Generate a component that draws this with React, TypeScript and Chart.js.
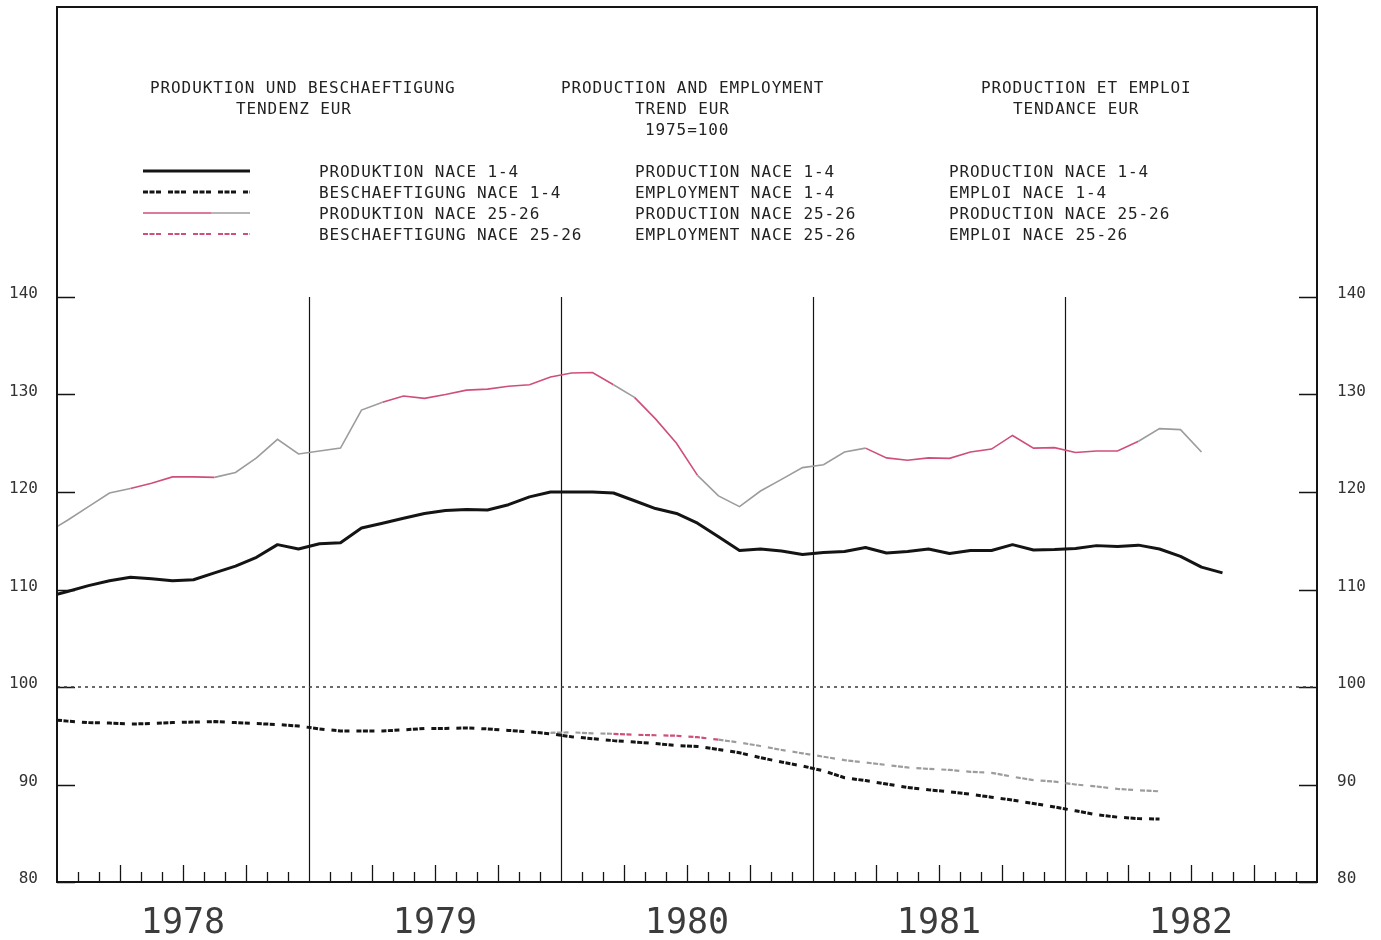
import React, { useEffect, useRef } from "react";
import { Chart, registerables } from "chart.js";

Chart.register(...registerables);

// ---------- data ----------
const yearLabels = ["1978", "1979", "1980", "1981", "1982"];
const yearMidMonths = [6, 18, 30, 42, 54];
const yearBoundaryMonths = [12, 24, 36, 48];
const yTickValues = [80, 90, 100, 110, 120, 130, 140];
const referenceLevel = 100;

// index 0 = start of Jan 1978, index i>=1 = middle of month i-1
const prodNace14 = [
  109.5, 109.8, 110.4, 110.9, 111.25, 111.1, 110.9, 111.0, 111.7, 112.4,
  113.3, 114.6, 114.15, 114.7, 114.8, 116.3, 116.8, 117.3, 117.8, 118.1,
  118.2, 118.15, 118.7, 119.5, 120.0, 120.0, 120.0, 119.9, 119.1, 118.3,
  117.8, 116.8, 115.4, 114.0, 114.15, 113.95, 113.6, 113.8, 113.9, 114.3,
  113.75, 113.9, 114.15, 113.7, 114.0, 114.0, 114.6, 114.05, 114.1, 114.2,
  114.5, 114.4, 114.55, 114.15, 113.4, 112.3, 111.7,
];
const empNace14 = [
  96.6, 96.5, 96.35, 96.3, 96.2, 96.25, 96.35, 96.4, 96.45, 96.35,
  96.25, 96.15, 96.0, 95.7, 95.5, 95.5, 95.5, 95.6, 95.75, 95.75,
  95.8, 95.7, 95.55, 95.4, 95.2, 94.9, 94.7, 94.5, 94.35, 94.2,
  94.0, 93.9, 93.6, 93.25, 92.75, 92.3, 91.9, 91.4, 90.7, 90.4,
  90.05, 89.7, 89.45, 89.25, 89.0, 88.7, 88.4, 88.05, 87.7, 87.3,
  86.9, 86.65, 86.5, 86.45,
];
const prodNace2526 = [
  116.45, 117.1, 118.5, 119.9, 120.35, 120.9, 121.55, 121.55, 121.5, 122.0,
  123.5, 125.4, 123.9, 124.2, 124.5, 128.4, 129.2, 129.85, 129.6, 130.0,
  130.45, 130.55, 130.85, 131.0, 131.8, 132.2, 132.25, 131.0, 129.7, 127.5,
  125.0, 121.7, 119.6, 118.5, 120.1, 121.3, 122.5, 122.8, 124.1, 124.5,
  123.5, 123.25, 123.5, 123.45, 124.1, 124.4, 125.8, 124.5, 124.55, 124.05,
  124.2, 124.2, 125.2, 126.5, 126.4, 124.1,
];
const empNace2526 = [
  null, null, null, null, null, null, null, null, null, null,
  null, null, null, null, null, null, null, null, null, null,
  null, null, null, null, 95.3, 95.35, 95.25, 95.2, 95.1, 95.05,
  95.0, 94.85, 94.6, 94.3, 93.95, 93.55, 93.2, 92.85, 92.5, 92.25,
  92.0, 91.75, 91.6, 91.5, 91.3, 91.2, 90.8, 90.45, 90.3, 90.0,
  89.8, 89.55, 89.4, 89.3,
];

const titleDe = ["PRODUKTION UND BESCHAEFTIGUNG", "TENDENZ EUR"];
const titleEn = ["PRODUCTION AND EMPLOYMENT", "TREND EUR", "1975=100"];
const titleFr = ["PRODUCTION ET EMPLOI", "TENDANCE EUR"];
const legendDe = ["PRODUKTION NACE 1-4", "BESCHAEFTIGUNG NACE 1-4", "PRODUKTION NACE 25-26", "BESCHAEFTIGUNG NACE 25-26"];
const legendEn = ["PRODUCTION NACE 1-4", "EMPLOYMENT NACE 1-4", "PRODUCTION NACE 25-26", "EMPLOYMENT NACE 25-26"];
const legendFr = ["PRODUCTION NACE 1-4", "EMPLOI NACE 1-4", "PRODUCTION NACE 25-26", "EMPLOI NACE 25-26"];

// ---------- styles ----------
const BLACK = "#141414";
const GRAY = "#9c9c9c";
const RED = "#cf4f78";
const EMP_DASH = [5, 1.5, 5, 1.5, 5, 7];
const prod2526RedRanges = [[4, 7], [16, 26], [28, 30], [39, 51]];
const emp2526RedRanges = [[27, 31]];
const MONO = "'DejaVu Sans Mono', monospace";

const monthPos = (i: number) => (i === 0 ? 0 : i - 0.5);
const toPoints = (arr: (number | null)[]) => arr.map((v, i) => ({ x: monthPos(i), y: v }));
const inRanges = (i: number, ranges: number[][]) => ranges.some(([a, b]) => i >= a && i <= b);

const legendRowsY = [171, 192, 213, 234];

const decorPlugin = {
  id: "decor",
  beforeDatasetsDraw(chart: any) {
    const { ctx, chartArea, scales } = chart;
    const { left, right, bottom } = chartArea;
    const x = scales.x;
    const y = scales.y;
    ctx.save();
    ctx.strokeStyle = BLACK;
    ctx.lineWidth = 1.2;
    // year separators
    const topLine = y.getPixelForValue(140);
    yearBoundaryMonths.forEach((m) => {
      const px = Math.round(x.getPixelForValue(m)) + 0.5;
      ctx.beginPath();
      ctx.moveTo(px, topLine);
      ctx.lineTo(px, bottom);
      ctx.stroke();
    });
    // y inner ticks
    ctx.lineWidth = 1.3;
    yTickValues.forEach((v) => {
      const py = Math.round(y.getPixelForValue(v)) + 0.5;
      ctx.beginPath();
      ctx.moveTo(left, py);
      ctx.lineTo(left + 18, py);
      ctx.moveTo(right - 18, py);
      ctx.lineTo(right, py);
      ctx.stroke();
    });
    // month ticks
    for (let m = 1; m < 60; m++) {
      if (m % 12 === 0) continue;
      const len = m % 3 === 0 ? 17 : 10;
      const px = Math.round(x.getPixelForValue(m)) + 0.5;
      ctx.beginPath();
      ctx.moveTo(px, bottom);
      ctx.lineTo(px, bottom - len);
      ctx.stroke();
    }
    ctx.restore();
  },
  afterDraw(chart: any) {
    const { ctx, chartArea } = chart;
    const { left, right, top, bottom } = chartArea;
    ctx.save();
    ctx.strokeStyle = BLACK;
    ctx.lineWidth = 2;
    ctx.strokeRect(left, top, right - left, bottom - top);

    // legend samples
    const x0 = 143, x1 = 250, xMid = 211;
    const ds = chart.data.datasets;
    const drawSample = (yy: number, color: string, width: number, dash: number[], xa: number, xb: number) => {
      ctx.beginPath();
      ctx.strokeStyle = color;
      ctx.lineWidth = width;
      ctx.setLineDash(dash);
      ctx.moveTo(xa, yy);
      ctx.lineTo(xb, yy);
      ctx.stroke();
    };
    drawSample(legendRowsY[0], ds[0].borderColor, ds[0].borderWidth, [], x0, x1);
    drawSample(legendRowsY[1], ds[1].borderColor, ds[1].borderWidth, ds[1].borderDash, x0, x1);
    drawSample(legendRowsY[2], RED, ds[2].borderWidth, [], x0, xMid);
    drawSample(legendRowsY[2], GRAY, ds[2].borderWidth, [], xMid, x1);
    drawSample(legendRowsY[3], RED, ds[3].borderWidth, ds[3].borderDash, x0, x1);
    ctx.restore();
  },
};

const textItems: { t: string; x: number; y: number }[] = [
  { t: titleDe[0], x: 150, y: 87 },
  { t: titleDe[1], x: 236, y: 108 },
  { t: titleEn[0], x: 561, y: 87 },
  { t: titleEn[1], x: 635, y: 108 },
  { t: titleEn[2], x: 645, y: 129 },
  { t: titleFr[0], x: 981, y: 87 },
  { t: titleFr[1], x: 1013, y: 108 },
  ...legendDe.map((t, i) => ({ t, x: 319, y: legendRowsY[i] })),
  ...legendEn.map((t, i) => ({ t, x: 635, y: legendRowsY[i] })),
  ...legendFr.map((t, i) => ({ t, x: 949, y: legendRowsY[i] })),
];

export default function App() {
  const canvasRef = useRef<HTMLCanvasElement | null>(null);

  useEffect(() => {
    if (!canvasRef.current) return;
    const yMax = 80 + (875 * 60) / 585;
    const yAxisBase = {
      type: "linear" as const,
      min: 80,
      max: yMax,
      afterBuildTicks: (s: any) => {
        s.ticks = yTickValues.map((v) => ({ value: v }));
      },
      grid: { display: false, drawTicks: false },
      border: { display: false },
    };
    const chart = new Chart(canvasRef.current, {
      type: "line",
      data: {
        datasets: [
          {
            label: "PRODUKTION NACE 1-4",
            data: toPoints(prodNace14),
            borderColor: BLACK,
            borderWidth: 3,
            pointRadius: 0,
            tension: 0,
            borderJoinStyle: "round",
          },
          {
            label: "BESCHAEFTIGUNG NACE 1-4",
            data: toPoints(empNace14),
            borderColor: BLACK,
            borderWidth: 3,
            borderDash: EMP_DASH,
            pointRadius: 0,
            tension: 0,
          },
          {
            label: "PRODUKTION NACE 25-26",
            data: toPoints(prodNace2526),
            borderColor: GRAY,
            borderWidth: 1.6,
            pointRadius: 0,
            tension: 0,
            segment: {
              borderColor: (c: any) => (inRanges(c.p0DataIndex, prod2526RedRanges) ? RED : GRAY),
            },
          },
          {
            label: "BESCHAEFTIGUNG NACE 25-26",
            data: toPoints(empNace2526),
            borderColor: GRAY,
            borderWidth: 2.2,
            borderDash: EMP_DASH,
            pointRadius: 0,
            tension: 0,
            segment: {
              borderColor: (c: any) => (inRanges(c.p0DataIndex, emp2526RedRanges) ? RED : GRAY),
            },
          },
          {
            label: "1975=100",
            data: [
              { x: 0, y: referenceLevel },
              { x: 60, y: referenceLevel },
            ],
            borderColor: "#3a3a3a",
            borderWidth: 1.3,
            borderDash: [3, 4],
            pointRadius: 0,
          },
        ] as any,
      },
      options: {
        responsive: false,
        animation: false,
        devicePixelRatio: 1,
        events: [],
        layout: { padding: { top: 7, left: 0, right: 0, bottom: 0 } },
        plugins: { legend: { display: false }, tooltip: { enabled: false }, title: { display: false } },
        scales: {
          x: {
            type: "linear",
            min: 0,
            max: 60,
            afterBuildTicks: (s: any) => {
              s.ticks = yearMidMonths.map((v) => ({ value: v }));
            },
            afterFit: (s: any) => {
              s.height = 58;
              s.paddingLeft = 0;
              s.paddingRight = 0;
            },
            grid: { display: false, drawTicks: false },
            border: { display: false },
            ticks: {
              autoSkip: false,
              maxRotation: 0,
              padding: 21,
              color: "#3c3c3c",
              font: { family: MONO, size: 35, lineHeight: 1.2 },
              callback: (v: any) => {
                const k = yearMidMonths.indexOf(Number(v));
                return k >= 0 ? yearLabels[k] : "";
              },
            },
          },
          y: {
            ...yAxisBase,
            position: "left",
            afterFit: (s: any) => {
              s.width = 57;
              s.paddingTop = 0;
              s.paddingBottom = 0;
            },
            ticks: { padding: 19, labelOffset: -3, color: "#333", font: { family: MONO, size: 16 } },
          },
          y2: {
            ...yAxisBase,
            position: "right",
            afterFit: (s: any) => {
              s.width = 64;
              s.paddingTop = 0;
              s.paddingBottom = 0;
            },
            ticks: { padding: 20, labelOffset: -3, color: "#333", font: { family: MONO, size: 16 } },
          },
        } as any,
      },
      plugins: [decorPlugin],
    });
    return () => chart.destroy();
  }, []);

  return (
    <div style={{ position: "absolute", left: 0, top: 0, width: 1381, height: 940, background: "#ffffff", overflow: "hidden" }}>
      <canvas ref={canvasRef} width={1381} height={940} style={{ display: "block" }} />
      {textItems.map((it, i) => (
        <div
          key={i}
          style={{
            position: "absolute",
            left: it.x,
            top: it.y - 10,
            fontFamily: MONO,
            fontSize: 16,
            lineHeight: "21px",
            letterSpacing: "0.9px",
            color: "#222",
            whiteSpace: "pre",
          }}
        >
          {it.t}
        </div>
      ))}
    </div>
  );
}
